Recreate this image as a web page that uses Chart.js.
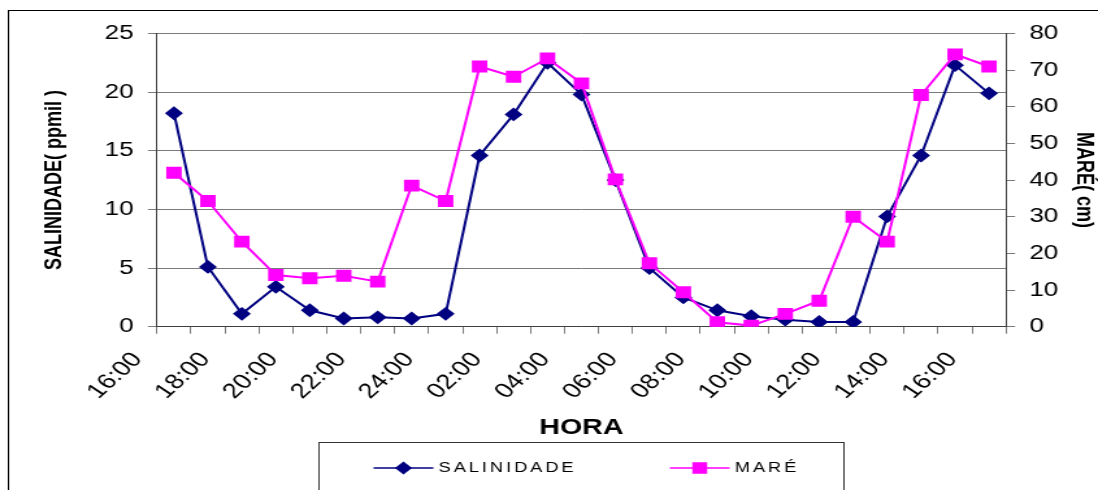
<!DOCTYPE html>
<html>
<head>
<meta charset="utf-8">
<script src="https://cdn.jsdelivr.net/npm/chart.js@4.4.1/dist/chart.umd.min.js"></script>
<style>
html, body { margin: 0; padding: 0; background: #fff; overflow: hidden; }
#wrap { width: 1098px; height: 490px; overflow: hidden; }
/* the original picture is stretched sideways, so the chart is drawn narrower and widened */
#grafico { display: block; transform: scaleX(1.29941); transform-origin: 0 0; }
</style>
</head>
<body>
<div id="wrap"><canvas id="grafico" width="845" height="490"></canvas></div>
<script>
// hourly readings, 16:00 to 16:00 the next day
const horas = ['16:00','17:00','18:00','19:00','20:00','21:00','22:00','23:00','24:00',
  '01:00','02:00','03:00','04:00','05:00','06:00','07:00','08:00','09:00','10:00',
  '11:00','12:00','13:00','14:00','15:00','16:00'];

const salinidade = [18.2, 5.1, 1.1, 3.4, 1.4, 0.7, 0.8, 0.7, 1.1, 14.6, 18.1, 22.5, 19.8,
  12.5, 5.0, 2.5, 1.4, 0.9, 0.6, 0.4, 0.4, 9.4, 14.6, 22.3, 19.9];

const mare = [42, 34.3, 23.2, 14.1, 13.2, 13.9, 12.3, 38.5, 34.3, 71, 68.2, 73.2, 66.4,
  40.2, 17.3, 9.4, 1.2, 0.3, 3.5, 7.1, 30, 23.2, 63.2, 74.3, 71];

const salMax = 25, salPasso = 5;
const mareMax = 80, marePasso = 10;

const azul = '#000080';
const rosa = '#ff00ff';
const grade = '#7a7a7a';
const eixo = '#404040';

Chart.defaults.font.family = "'Liberation Sans', Arial, sans-serif";
Chart.defaults.color = '#000';

// outer frame + hand made legend box (line with marker, like excel)
const moldura = {
  id: 'moldura',
  beforeDraw(chart) {
    const ctx = chart.ctx;
    ctx.save();
    ctx.fillStyle = '#fff';
    ctx.fillRect(0, 0, chart.width, chart.height);
    ctx.strokeStyle = '#000';
    ctx.lineWidth = 1;
    ctx.strokeRect(6.5, 10.5, chart.width + 20, chart.height + 20);
    ctx.restore();
  },
  afterDraw(chart) {
    const ctx = chart.ctx;
    const ca = chart.chartArea;
    const cx = (ca.left + ca.right) / 2;
    ctx.save();
    ctx.strokeStyle = '#333';
    ctx.lineWidth = 1;
    ctx.strokeRect(Math.round(cx - 202) + 0.5, 442.5, 404, 100);

    const y = 468;
    const posicoes = [cx - 160, cx + 68];
    chart.data.datasets.forEach(function(ds, i) {
      const x = posicoes[i];
      ctx.strokeStyle = ds.borderColor;
      ctx.fillStyle = ds.backgroundColor;
      ctx.lineWidth = 1.5;
      ctx.beginPath();
      ctx.moveTo(x, y);
      ctx.lineTo(x + 46, y);
      ctx.stroke();
      Chart.helpers.drawPoint(ctx, {
        pointStyle: ds.pointStyle, radius: ds.pointRadius, rotation: 0, borderWidth: 1
      }, x + 23, y);
      ctx.fillStyle = '#000';
      ctx.font = "14px 'Liberation Sans', Arial, sans-serif";
      ctx.letterSpacing = '2.3px';
      ctx.textBaseline = 'middle';
      ctx.textAlign = 'left';
      ctx.fillText(ds.label, x + 50, y);
    });
    ctx.restore();
  }
};

new Chart(document.getElementById('grafico'), {
  type: 'line',
  data: {
    labels: horas,
    datasets: [
      {
        label: 'SALINIDADE',
        data: salinidade,
        yAxisID: 'y',
        borderColor: azul,
        backgroundColor: azul,
        borderWidth: 2,
        pointStyle: 'rectRot',
        pointRadius: 5.5,
        tension: 0,
        order: 1
      },
      {
        label: 'MARÉ',
        data: mare,
        yAxisID: 'y1',
        borderColor: rosa,
        backgroundColor: rosa,
        borderWidth: 2,
        pointStyle: 'rect',
        pointRadius: 7,
        tension: 0,
        order: 0
      }
    ]
  },
  options: {
    responsive: false,
    animation: false,
    layout: { padding: { top: 33.5, left: 0, right: 0, bottom: 0 } },
    plugins: {
      legend: { display: false },
      tooltip: { enabled: false }
    },
    scales: {
      x: {
        type: 'category',
        offset: true,
        grid: { offset: true, drawOnChartArea: false, tickLength: 7, color: grade },
        border: { color: eixo },
        ticks: {
          autoSkip: false,
          minRotation: 49,
          maxRotation: 49,
          padding: 14,
          labelOffset: -28,
          font: { size: 21 },
          callback: function(v, i) { return i % 2 === 0 ? this.getLabelForValue(v) : ''; }
        },
        title: {
          display: true,
          text: 'HORA',
          font: { size: 22, weight: 'bold' },
          padding: { top: 0, bottom: 48.8 }
        },
        afterFit(s) { s.height = 163.3; }
      },
      y: {
        position: 'left',
        min: 0,
        max: salMax,
        grid: { color: grade, tickLength: 7 },
        border: { color: eixo },
        ticks: { stepSize: salPasso, padding: 11, font: { size: 20 } },
        title: {
          display: true,
          text: 'SALINIDADE( ppmil )',
          font: { size: 18, weight: 'bold' },
          padding: { top: 31.5, bottom: 0 }
        },
        afterFit(s) { s.width = 120.8; }
      },
      y1: {
        position: 'right',
        min: 0,
        max: mareMax,
        grid: { drawOnChartArea: false, color: grade, tickLength: 7 },
        border: { color: eixo },
        ticks: { stepSize: marePasso, padding: 11, font: { size: 20 } },
        title: {
          display: true,
          text: 'MARÉ( cm)',
          font: { size: 18, weight: 'bold' },
          padding: { top: 0, bottom: 0 }
        },
        afterFit(s) { s.width = 70.8; }
      }
    }
  },
  plugins: [moldura]
});
</script>
</body>
</html>
